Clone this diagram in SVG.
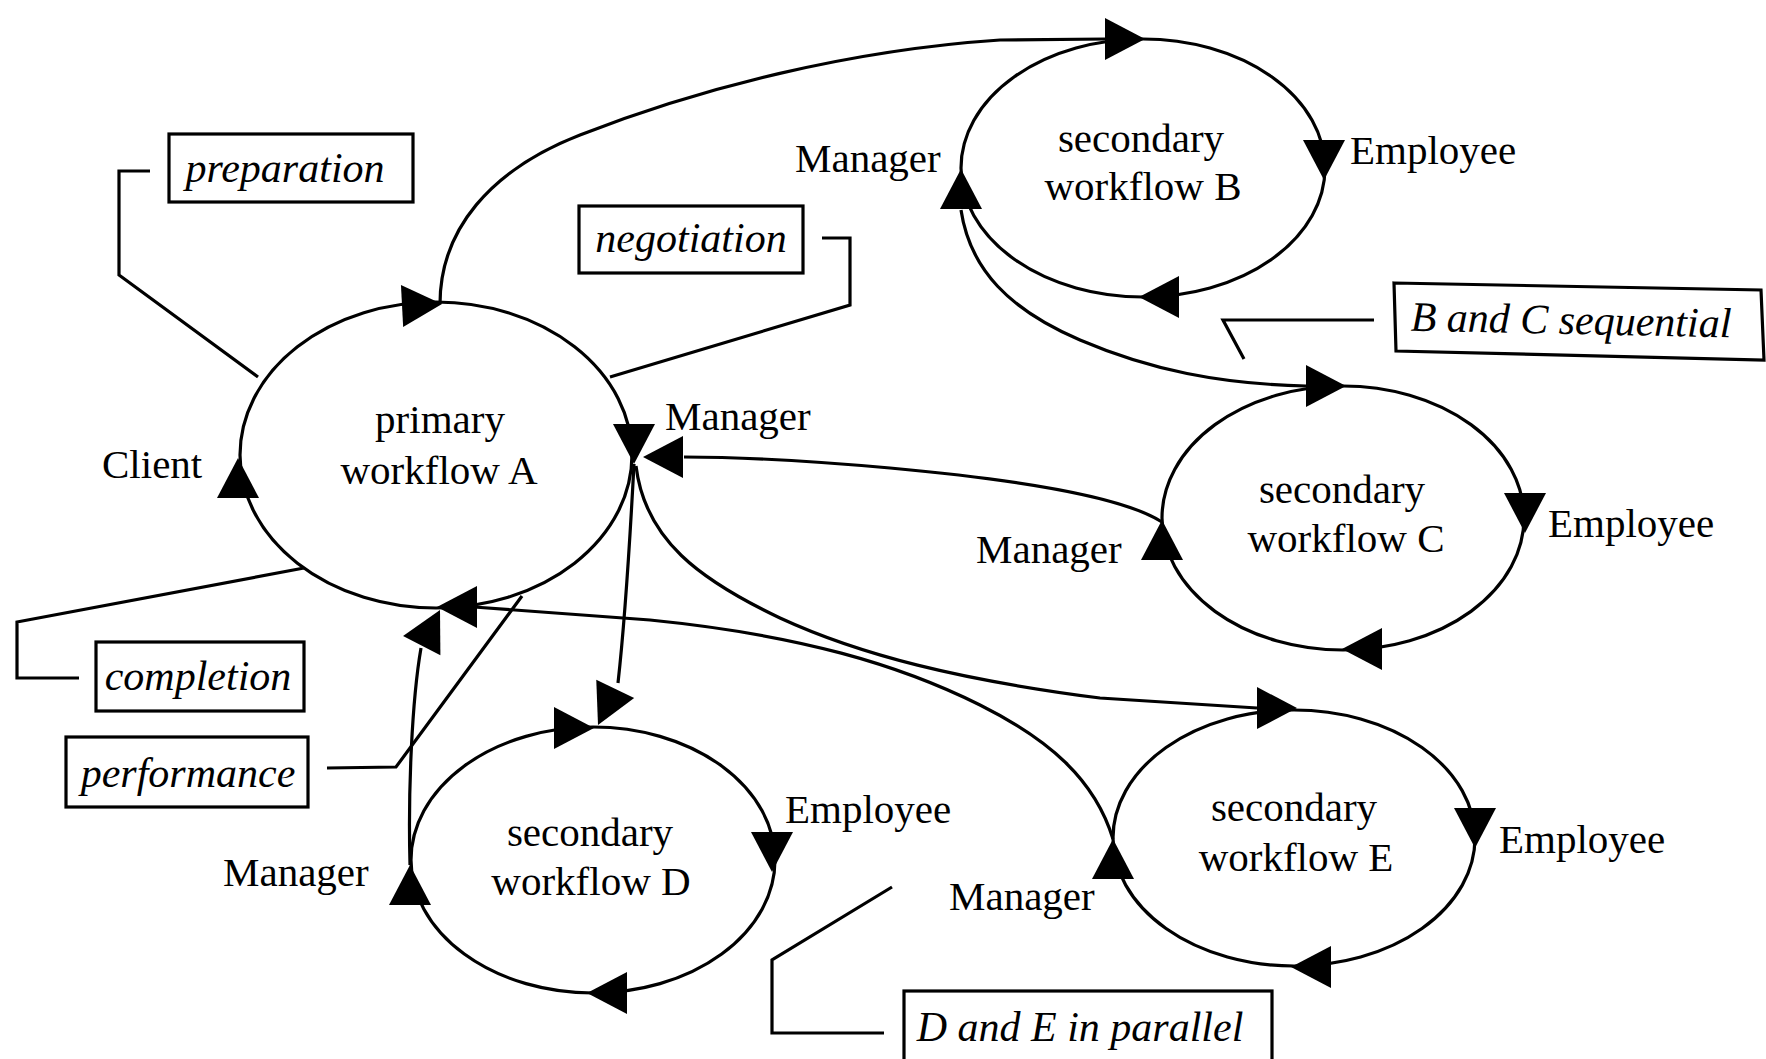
<svg xmlns="http://www.w3.org/2000/svg" xmlns:xlink="http://www.w3.org/1999/xlink" width="1766" height="1059" viewBox="0 0 1766 1059">
<style>
.wf{fill:none;stroke:#000;stroke-width:3.2}
.ln{fill:none;stroke:#000;stroke-width:3.2}
.box{fill:#fff;stroke:#000;stroke-width:3.2}
.t{font-family:"Liberation Serif","Times New Roman",serif;font-size:41px;fill:#000}
.c{text-anchor:middle}
.it{font-family:"Liberation Serif","Times New Roman",serif;font-size:42px;font-style:italic;fill:#000;text-anchor:middle}
.ah{fill:#000;stroke:none}
</style>
<defs>
<path id="ah" class="ah" d="M0,0 L-40,-21 L-40,21 Z"/>
</defs>
<rect width="1766" height="1059" fill="#fff"/>

<g id="connectors">
  <path class="ln" d="M440,304 C440,230 490,170 580,135 C700,88 850,50 1000,40 L1106,39"/>
  <path class="ln" d="M961,210 C970,270 1010,310 1080,340 C1150,370 1220,384 1306,386"/>
  <path class="ln" d="M1162,522 C1120,495 1000,478 890,468 C800,460 740,457 684,457"/>
  <use href="#ah" transform="translate(643,457) rotate(180)"/>
  <path class="ln" d="M634,464 C630,540 625,620 618,683"/>
  <use href="#ah" transform="translate(598,725) rotate(115.5)"/>
  <path class="ln" d="M636,466 C645,540 700,580 780,618 C860,655 960,680 1100,698 L1257,708"/>
  <path class="ln" d="M1113,839 C1095,780 1050,740 980,705 C900,665 800,635 650,620 L474,607"/>
  <path class="ln" d="M410,865 C408,790 412,700 421,648"/>
  <use href="#ah" transform="translate(440,610) rotate(-62.8)"/>
</g>

<g id="node-A">
  <ellipse class="wf" cx="436" cy="455" rx="196" ry="153"/>
  <use href="#ah" transform="translate(442,304) rotate(-3)"/>
  <use href="#ah" transform="translate(634,464) rotate(90)"/>
  <use href="#ah" transform="translate(238,458) rotate(-90)"/>
  <use href="#ah" transform="translate(437,607) rotate(180)"/>
  <text class="t c" x="440" y="433">primary</text>
  <text class="t c" x="439" y="484">workflow A</text>
  <text class="t" x="102" y="478">Client</text>
  <text class="t" x="665" y="430">Manager</text>
</g>

<g id="node-B">
  <ellipse class="wf" cx="1143" cy="168" rx="182" ry="129"/>
  <use href="#ah" transform="translate(1145,39)"/>
  <use href="#ah" transform="translate(1324,180) rotate(90)"/>
  <use href="#ah" transform="translate(1139,297) rotate(180)"/>
  <use href="#ah" transform="translate(961,169) rotate(-90)"/>
  <text class="t c" x="1141" y="152">secondary</text>
  <text class="t c" x="1143" y="200">workflow B</text>
  <text class="t" x="795" y="172">Manager</text>
  <text class="t" x="1350" y="164">Employee</text>
</g>

<g id="node-C">
  <ellipse class="wf" cx="1343" cy="518" rx="181" ry="132"/>
  <use href="#ah" transform="translate(1346,386)"/>
  <use href="#ah" transform="translate(1525,533) rotate(90)"/>
  <use href="#ah" transform="translate(1342,649) rotate(180)"/>
  <use href="#ah" transform="translate(1162,520) rotate(-90)"/>
  <text class="t c" x="1342" y="503">secondary</text>
  <text class="t c" x="1346" y="552">workflow C</text>
  <text class="t" x="976" y="563">Manager</text>
  <text class="t" x="1548" y="537">Employee</text>
</g>

<g id="node-D">
  <ellipse class="wf" cx="593" cy="860" rx="182" ry="133"/>
  <use href="#ah" transform="translate(594,728)"/>
  <use href="#ah" transform="translate(772,872) rotate(90)"/>
  <use href="#ah" transform="translate(587,993) rotate(180)"/>
  <use href="#ah" transform="translate(410,865) rotate(-90)"/>
  <text class="t c" x="590" y="846">secondary</text>
  <text class="t c" x="591" y="895">workflow D</text>
  <text class="t" x="223" y="886">Manager</text>
  <text class="t" x="785" y="823">Employee</text>
</g>

<g id="node-E">
  <ellipse class="wf" cx="1294" cy="838" rx="181" ry="128"/>
  <use href="#ah" transform="translate(1297,708)"/>
  <use href="#ah" transform="translate(1475,848) rotate(90)"/>
  <use href="#ah" transform="translate(1291,967) rotate(180)"/>
  <use href="#ah" transform="translate(1113,839) rotate(-90)"/>
  <text class="t c" x="1294" y="821">secondary</text>
  <text class="t c" x="1296" y="871">workflow E</text>
  <text class="t" x="949" y="910">Manager</text>
  <text class="t" x="1499" y="853">Employee</text>
</g>

<g id="note-preparation">
  <path class="ln" d="M150,171 L119,171 L119,275 L258,377"/>
  <rect class="box" x="169" y="134" width="244" height="68"/>
  <text class="it" x="285" y="182">preparation</text>
</g>

<g id="note-negotiation">
  <path class="ln" d="M822,238 L850,238 L850,305 L610,377"/>
  <rect class="box" x="579" y="206" width="224" height="67"/>
  <text class="it" x="691" y="252">negotiation</text>
</g>

<g id="note-completion">
  <path class="ln" d="M79,678 L17,678 L17,622 L304,568"/>
  <rect class="box" x="96" y="642" width="208" height="69"/>
  <text class="it" x="198" y="690">completion</text>
</g>

<g id="note-performance">
  <path class="ln" d="M327,768 L396,767 L522,596"/>
  <rect class="box" x="66" y="737" width="242" height="70"/>
  <text class="it" x="188" y="787">performance</text>
</g>

<g id="note-sequential">
  <path class="ln" d="M1374,320 L1223,320 L1244,359"/>
  <polygon class="box" points="1394,283 1761,290 1764,360 1396,351"/>
  <text class="it" x="1571" y="334" transform="rotate(1.2 1571 322)">B and C sequential</text>
</g>

<g id="note-parallel">
  <path class="ln" d="M892,887 L772,960 L772,1033 L884,1033"/>
  <rect class="box" x="904" y="991" width="368" height="90"/>
  <text class="it" x="1080" y="1041">D and E in parallel</text>
</g>
</svg>
